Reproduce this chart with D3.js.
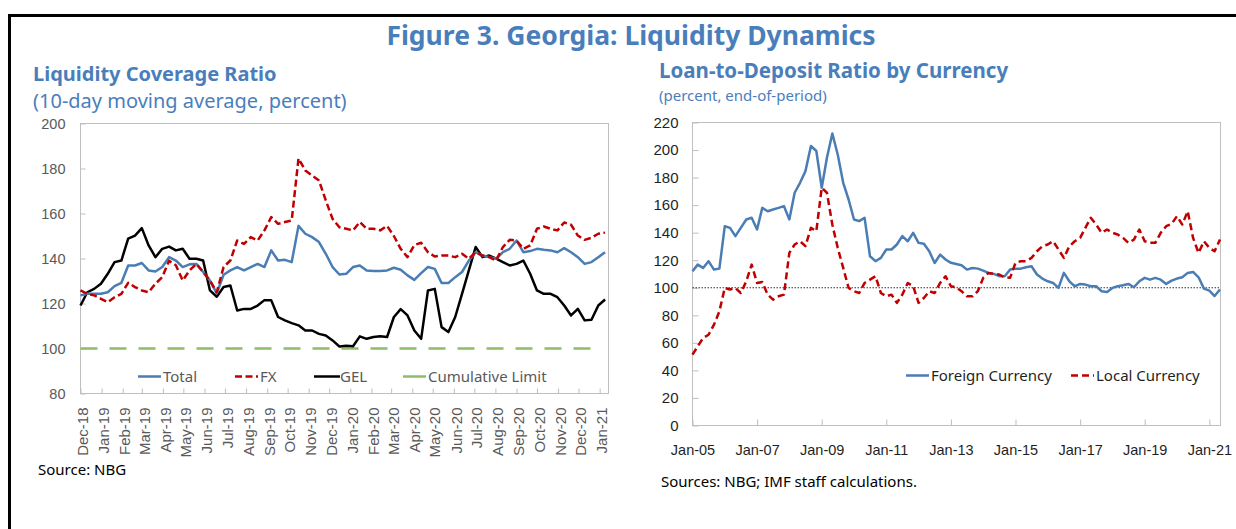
<!DOCTYPE html>
<html>
<head>
<meta charset="UTF-8"/>
<title>Figure 3. Georgia: Liquidity Dynamics</title>
<style>
  body { margin: 0; background: #fff; }
  svg { display: block; font-family: 'Noto Sans', sans-serif; }
  .frame { fill: none; stroke: #bfbfbf; stroke-width: 1; }
  .axis path { display: none; }
  .axis line { stroke: #bfbfbf; }
  .lcr text { fill: #595959; }
  .ldr text { fill: #1f1f1f; }
  .title { fill: #4a7ebb; font-weight: 700; }
  .sub { fill: #4a7ebb; }
</style>
<script src="https://d3js.org/d3.v7.min.js"></script>
</head>
<body>
<svg width="1236" height="529"></svg>
<script>
// ---- Liquidity Coverage Ratio (10-day moving average, percent) ----
const lcrDates = [
  "2018-12-01","2018-12-11","2018-12-21","2018-12-31","2019-01-10","2019-01-20","2019-01-30","2019-02-09","2019-02-19","2019-03-01",
  "2019-03-11","2019-03-21","2019-03-31","2019-04-10","2019-04-20","2019-04-30","2019-05-10","2019-05-20","2019-05-30","2019-06-09",
  "2019-06-19","2019-06-29","2019-07-09","2019-07-19","2019-07-29","2019-08-08","2019-08-18","2019-08-28","2019-09-07","2019-09-17",
  "2019-09-27","2019-10-07","2019-10-17","2019-10-27","2019-11-06","2019-11-16","2019-11-26","2019-12-06","2019-12-16","2019-12-26",
  "2020-01-05","2020-01-15","2020-01-25","2020-02-04","2020-02-14","2020-02-24","2020-03-05","2020-03-15","2020-03-25","2020-04-04",
  "2020-04-14","2020-04-24","2020-05-04","2020-05-14","2020-05-24","2020-06-03","2020-06-13","2020-06-23","2020-07-03","2020-07-13",
  "2020-07-23","2020-08-02","2020-08-12","2020-08-22","2020-09-01","2020-09-11","2020-09-21","2020-10-01","2020-10-11","2020-10-21",
  "2020-10-31","2020-11-10","2020-11-20","2020-11-30","2020-12-10","2020-12-20","2020-12-30","2021-01-09"
];
const lcrTotal = [
  123.6,124.3,124.3,124.3,125,127.7,129.2,136.9,136.9,138,
  134.7,134.2,136.2,140.6,139.1,136.2,137.4,137.6,134,130.2,
  124.5,132.8,134.7,136.2,134.7,136.2,137.6,136.2,143.6,139.1,
  139.4,138.4,154.5,151,149.5,147.3,142.1,136.2,132.9,133.2,
  136.2,136.9,134.7,134.4,134.4,134.7,135.9,135,132.5,130.5,
  133.5,136.2,135.4,129.1,129.1,131.7,134,139.1,142.8,141.3,
  140.6,139.9,142.8,144.3,148,142.8,143.3,144.3,143.9,143.6,
  142.8,144.6,142.8,140.6,137.6,138.4,140.6,142.8
];
const lcrFX = [
  125.8,124.3,123.6,122.1,120.6,122.8,124.3,129.2,127.3,125.8,
  125,128.8,131.7,139,137,130.2,134.7,137.6,134,130.2,
  125,136.2,139.1,148,146.5,149.5,148,152.5,158.4,155.4,
  156.2,156.9,184.5,179.1,176.9,174.7,165.8,157.6,153.9,153.2,
  152.5,156.2,153.2,153.2,152.5,154.5,150,144.3,140.6,146,
  147,142.8,140.9,141.3,141.3,140.6,142.1,139.9,142.8,141.3,
  140.6,139.1,145.1,148.3,148,144.3,145.8,153.2,154.2,153.2,
  152.5,156,155,150.2,148.3,149.2,151,151.5
];
const lcrGEL = [
  119.1,125,126.5,128.8,133.2,138.4,139.1,148.8,150.2,153.5,
  145.8,140.6,144.3,145.3,143.6,144.3,139.9,139.9,139.1,125.8,
  123,127.3,128,116.9,117.6,117.6,119.1,121.5,121.4,114,
  112.5,111.3,110.3,108,108,106.5,105.8,103.6,100.9,101.2,
  101,105.4,104.3,105.1,105.4,105.1,114,117.5,114.7,108,
  104.3,125.8,126.5,109.5,107.3,114,124.3,134.7,145.1,140.6,
  141.3,139.9,138.4,136.9,137.6,139.1,133.2,125.8,124.3,124.3,
  122.8,119.1,114.7,117.6,112.5,112.8,119.1,121.8
];
const lcrLimitDates = ["2018-12-01", "2021-01-01"];
const lcrLimit = [100, 100];
const lcrTickLabels = ["Dec-18","Jan-19","Feb-19","Mar-19","Apr-19","May-19","Jun-19","Jul-19","Aug-19",
  "Sep-19","Oct-19","Nov-19","Dec-19","Jan-20","Feb-20","Mar-20","Apr-20","May-20","Jun-20","Jul-20",
  "Aug-20","Sep-20","Oct-20","Nov-20","Dec-20","Jan-21"];
const lcrYTicks = [80, 100, 120, 140, 160, 180, 200];

// ---- Loan-to-Deposit Ratio by Currency (percent, end-of-period) ----
const ldrMonths = [
  "2005-01","2005-03","2005-05","2005-07","2005-09","2005-11","2006-01","2006-03","2006-05","2006-07","2006-09","2006-11",
  "2007-01","2007-03","2007-05","2007-07","2007-09","2007-11","2008-01","2008-03","2008-05","2008-07","2008-09","2008-11",
  "2009-01","2009-03","2009-05","2009-07","2009-09","2009-11","2010-01","2010-03","2010-05","2010-07","2010-09","2010-11",
  "2011-01","2011-03","2011-05","2011-07","2011-09","2011-11","2012-01","2012-03","2012-05","2012-07","2012-09","2012-11",
  "2013-01","2013-03","2013-05","2013-07","2013-09","2013-11","2014-01","2014-03","2014-05","2014-07","2014-09","2014-11",
  "2015-01","2015-03","2015-05","2015-07","2015-09","2015-11","2016-01","2016-03","2016-05","2016-07","2016-09","2016-11",
  "2017-01","2017-03","2017-05","2017-07","2017-09","2017-11","2018-01","2018-03","2018-05","2018-07","2018-09","2018-11",
  "2019-01","2019-03","2019-05","2019-07","2019-09","2019-11","2020-01","2020-03","2020-05","2020-07","2020-09","2020-11",
  "2021-01","2021-03","2021-05"
];
const ldrForeign = [
  112,116.8,114.4,119.3,113.2,113.9,144.7,143.5,137.5,143.5,149.6,150.8,
  142.3,158,155.6,156.8,158,159.3,149.6,169,176.2,184.7,203,199.3,
  172.6,194.4,212,196.8,176.2,164.1,149.6,148.4,150.8,122.9,119.3,121.7,
  127.8,127.8,131.4,137.5,133.8,139.9,132.6,131.9,126.5,118,124.1,120.5,
  118.1,117.3,116.4,113.2,114.4,113.9,112.5,110.8,110.1,108.4,108.4,113.2,
  113.9,113.9,114.9,115.6,109.6,106.7,104.7,103.5,99.9,110.8,104.7,101.1,
  102.8,102.3,101.1,101.1,97.5,97,99.9,101.1,101.8,102.8,100.4,104.7,
  107.2,105.9,107.2,105.9,102.8,105.2,106.7,107.6,110.8,111.5,107.6,99.4,
  97.9,94,98.7
];
const ldrLocal = [
  51.4,57.5,63.5,65.9,73.2,82.9,99.9,98.7,99.9,96.2,104.7,116.8,
  103.5,104.2,95,91.4,93.8,95,125.3,131.4,133.8,130.2,143.5,141.1,
  172.6,169,145.9,129,114.4,99.9,97.5,96.2,103.5,105.9,108.4,96.2,
  93.8,95,89,95,103.5,101.1,89,92.6,97.5,96.2,103.5,108.4,
  101.1,100.4,97.5,93.8,93.8,97.5,107.2,110.8,110.1,109.6,107.6,107.2,
  118.1,119.3,119.3,121.7,126.5,130.2,131.4,133.8,127.8,121.7,130.2,133.8,
  136.2,143.5,150.8,145.9,139.9,142.3,139.9,138.7,136.2,132.6,135,142.3,
  133.8,132.6,132.6,139.9,144.7,146.4,152,145.9,155.6,136.2,125.3,133.8,
  129,126.5,135
];
const ldrTickLabels = ["Jan-05","Jan-07","Jan-09","Jan-11","Jan-13","Jan-15","Jan-17","Jan-19","Jan-21"];
const ldrYTicks = [0, 20, 40, 60, 80, 100, 120, 140, 160, 180, 200, 220];
const ldrReference = 100;

const blue = '#4a7db4', red = '#c00000', green = '#8fbc67';
const parseDay = d3.timeParse('%Y-%m-%d');
const parseMonth = d3.timeParse('%Y-%m');
const parseTick = d3.timeParse('%b-%y');

const svg = d3.select('svg');

// outer figure border (runs off the right and bottom of the picture)
svg.append('rect')
  .attr('x', 9.5).attr('y', 15.5).attr('width', 1300).attr('height', 600)
  .attr('fill', 'none').attr('stroke', '#000').attr('stroke-width', 3);

svg.append('text').attr('class', 'title')
  .attr('x', 631).attr('y', 45).attr('text-anchor', 'middle')
  .style('font-size', '26.5px')
  .text('Figure 3. Georgia: Liquidity Dynamics');

/* ================= left panel ================= */
const lp = { left: 80.5, right: 608.5, top: 123.5, bottom: 393.5 };
const left = svg.append('g').attr('class', 'lcr');

svg.append('text').attr('class', 'title').attr('x', 33).attr('y', 81)
  .style('font-size', '20px').text('Liquidity Coverage Ratio');
svg.append('text').attr('class', 'sub').attr('x', 33).attr('y', 108)
  .style('font-size', '20px').text('(10-day moving average, percent)');

const xL = d3.scaleTime()
  .domain([parseDay('2018-12-01'), parseDay('2021-01-14')])
  .range([lp.left, lp.right]);
const yL = d3.scaleLinear().domain([80, 200]).range([lp.bottom, lp.top]);

left.append('rect').attr('class', 'frame')
  .attr('x', lp.left).attr('y', lp.top)
  .attr('width', lp.right - lp.left).attr('height', lp.bottom - lp.top);

left.append('g').attr('class', 'axis')
  .attr('transform', `translate(${lp.left},0)`)
  .call(d3.axisLeft(yL).tickValues(lcrYTicks).tickSizeInner(-5).tickSizeOuter(0).tickPadding(15))
  .call(g => g.selectAll('text').style('font-size', '14.5px').attr('font-family', null));

left.append('g').attr('class', 'axis')
  .attr('transform', `translate(0,${lp.bottom})`)
  .call(d3.axisBottom(xL).tickValues(lcrTickLabels.map(parseTick))
    .tickFormat(d3.timeFormat('%b-%y')).tickSizeInner(-5).tickSizeOuter(0))
  .call(g => g.selectAll('text')
    .attr('font-family', null)
    .style('font-size', '15px')
    .attr('text-anchor', 'end')
    .attr('transform', 'rotate(-90)')
    .attr('x', -14).attr('y', 2).attr('dy', '0.35em'));

const lineL = d3.line().x(d => xL(d[0])).y(d => yL(d[1]));
const lcrSeries = [
  { values: lcrGEL, color: '#000', dash: null },
  { values: lcrTotal, color: blue, dash: null },
  { values: lcrFX, color: red, dash: '7,3.5' }
];

left.append('path')
  .datum(lcrLimitDates.map((d, i) => [parseDay(d), lcrLimit[i]]))
  .attr('d', lineL).attr('fill', 'none')
  .attr('stroke', green).attr('stroke-width', 2.5).attr('stroke-dasharray', '17,12');

left.selectAll('path.series')
  .data(lcrSeries)
  .enter()
  .append('path')
  .attr('class', 'series')
  .attr('d', s => lineL(lcrDates.map((d, i) => [parseDay(d), s.values[i]])))
  .attr('fill', 'none')
  .attr('stroke', s => s.color)
  .attr('stroke-width', 2.5)
  .attr('stroke-linejoin', 'round')
  .attr('stroke-dasharray', s => s.dash);

// legend
const lcrLegend = [
  { name: 'Total', color: blue, dash: null, x: 138 },
  { name: 'FX', color: red, dash: '7,3.5', x: 235 },
  { name: 'GEL', color: '#000', dash: null, x: 314 },
  { name: 'Cumulative Limit', color: green, dash: null, x: 403 }
];
const legL = left.selectAll('g.leg').data(lcrLegend).enter().append('g')
  .attr('class', 'leg').attr('transform', d => `translate(${d.x},376.5)`);
legL.append('line').attr('x1', 0).attr('x2', d => d.name === 'GEL' ? 26 : 23)
  .attr('stroke', d => d.color).attr('stroke-width', 2.5).attr('stroke-dasharray', d => d.dash);
legL.append('text').attr('x', d => d.name === 'GEL' ? 26 : 25).attr('dy', '0.35em')
  .style('font-size', '15px').text(d => d.name);

left.append('text').attr('x', 38).attr('y', 475).style('font-size', '15px')
  .style('fill', '#000').text('Source: NBG');

/* ================= right panel ================= */
const rp = { left: 692.5, right: 1220.5, top: 122.5, bottom: 425.5 };
const right = svg.append('g').attr('class', 'ldr');

svg.append('text').attr('class', 'title').attr('x', 659).attr('y', 78)
  .style('font-size', '20.5px').text('Loan-to-Deposit Ratio by Currency');
svg.append('text').attr('class', 'sub').attr('x', 659).attr('y', 101)
  .style('font-size', '15px').text('(percent, end-of-period)');

const xR = d3.scaleTime()
  .domain([parseMonth('2005-01'), parseDay('2021-05-07')])
  .range([rp.left, rp.right]);
const yR = d3.scaleLinear().domain([0, 220]).range([rp.bottom, rp.top]);

right.append('rect').attr('class', 'frame')
  .attr('x', rp.left).attr('y', rp.top)
  .attr('width', rp.right - rp.left).attr('height', rp.bottom - rp.top);

right.append('g').attr('class', 'axis')
  .attr('transform', `translate(${rp.left},0)`)
  .call(d3.axisLeft(yR).tickValues(ldrYTicks).tickSizeInner(-6).tickSizeOuter(0).tickPadding(14))
  .call(g => g.selectAll('text').style('font-size', '15px').attr('font-family', null));

right.append('g').attr('class', 'axis')
  .attr('transform', `translate(0,${rp.bottom})`)
  .call(d3.axisBottom(xR).tickValues(ldrTickLabels.map(parseTick))
    .tickFormat(d3.timeFormat('%b-%y')).tickSizeInner(-6).tickSizeOuter(0))
  .call(g => g.selectAll('text').style('font-size', '14.5px').attr('font-family', null)
    .attr('y', 29).attr('dy', 0));

right.append('line')
  .attr('x1', rp.left).attr('x2', rp.right)
  .attr('y1', yR(ldrReference)).attr('y2', yR(ldrReference))
  .attr('stroke', '#333').attr('stroke-width', 1.2).attr('stroke-dasharray', '1.5,1.5');

const lineR = d3.line().x(d => xR(d[0])).y(d => yR(d[1]));
const ldrSeries = [
  { values: ldrForeign, color: blue, dash: null },
  { values: ldrLocal, color: red, dash: '7,4' }
];
right.selectAll('path.series')
  .data(ldrSeries)
  .enter()
  .append('path')
  .attr('class', 'series')
  .attr('d', s => lineR(ldrMonths.map((m, i) => [parseMonth(m), s.values[i]])))
  .attr('fill', 'none')
  .attr('stroke', s => s.color)
  .attr('stroke-width', 2.5)
  .attr('stroke-linejoin', 'round')
  .attr('stroke-dasharray', s => s.dash);

const ldrLegend = [
  { name: 'Foreign Currency', color: blue, dash: null, x: 906 },
  { name: 'Local Currency', color: red, dash: '7,4', x: 1071 }
];
const legR = right.selectAll('g.leg').data(ldrLegend).enter().append('g')
  .attr('class', 'leg').attr('transform', d => `translate(${d.x},375.5)`);
legR.append('line').attr('x1', 0).attr('x2', 23)
  .attr('stroke', d => d.color).attr('stroke-width', 2.5).attr('stroke-dasharray', d => d.dash);
legR.append('text').attr('x', 25).attr('dy', '0.35em')
  .style('font-size', '15px').text(d => d.name);

right.append('text').attr('x', 661).attr('y', 487).style('font-size', '15px')
  .style('fill', '#000').text('Sources: NBG; IMF staff calculations.');
</script>
</body>
</html>
